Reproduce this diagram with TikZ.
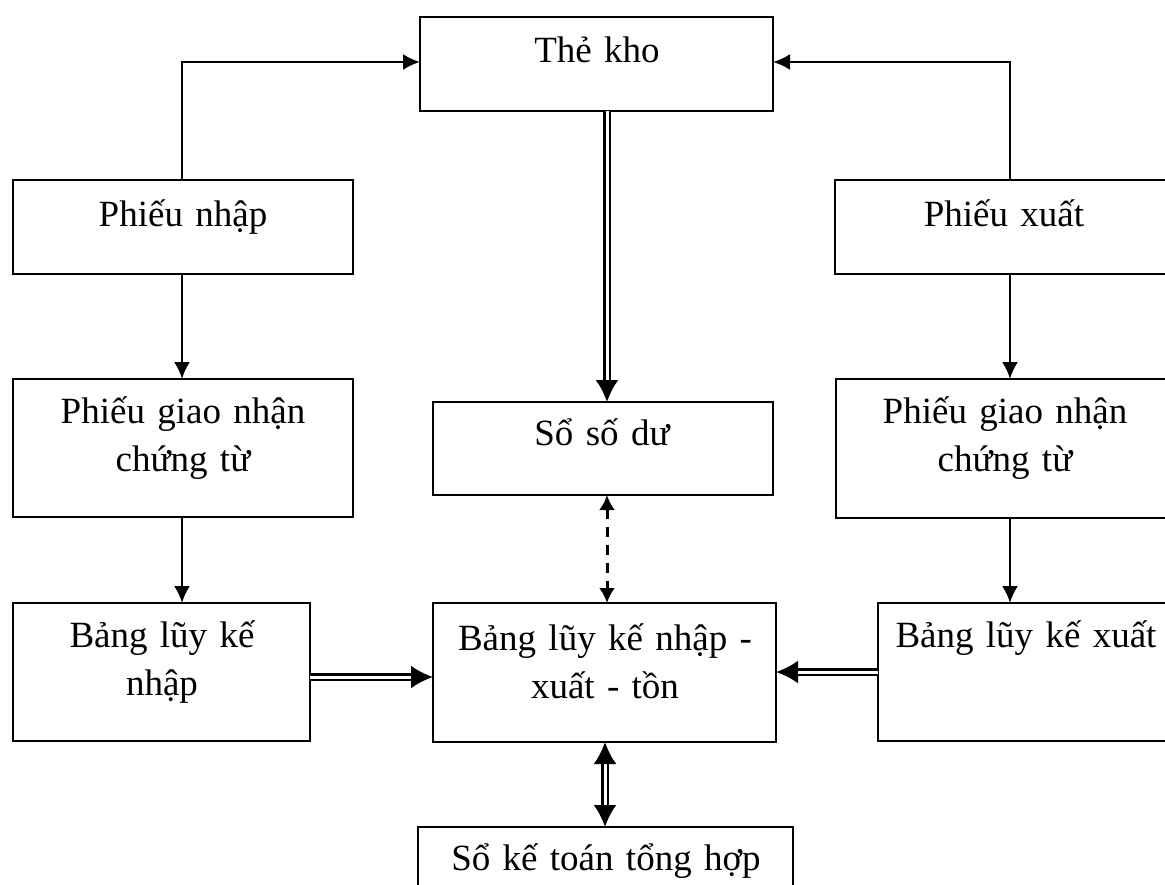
\documentclass[tikz,border=0pt]{standalone}
\usepackage{fontspec}
\setmainfont{Liberation Serif}
\usetikzlibrary{arrows.meta}
\tikzset{
  box/.style={draw=black, line width=1.3pt, rectangle, inner sep=0pt, outer sep=0pt, anchor=north west},
  lbl/.style={anchor=base, inner sep=0pt, text width=420pt, align=center, font=\fontsize{37}{48.5}\selectfont},
  arr/.style={line width=2.4pt, -{Latex[length=17pt,width=16pt]}},
  dbl/.style={double, double distance=3pt, line width=2.6pt, -{Latex[length=22pt,width=23pt]}},
  dblboth/.style={double, double distance=3pt, line width=2.6pt, {Latex[length=22pt,width=23pt]}-{Latex[length=22pt,width=23pt]}},
  dsh/.style={line width=3pt, dash pattern=on 10pt off 8pt, {Latex[length=15pt,width=16pt]}-{Latex[length=15pt,width=16pt]}}
}
\begin{document}
\begin{tikzpicture}[x=1pt,y=-1pt]
\useasboundingbox (0,0) rectangle (1165,884);
\fill[white] (0,0) rectangle (1165,884);
\clip (0,0) rectangle (1165,884);

% boxes
\node[box, minimum width=353pt, minimum height=94pt] (tk) at (420,17) {};
\node[box, minimum width=340pt, minimum height=94pt] (pn) at (13,180) {};
\node[box, minimum width=350pt, minimum height=94pt] (px) at (835,180) {};
\node[box, minimum width=340pt, minimum height=138pt] (pgnL) at (13,379) {};
\node[box, minimum width=340pt, minimum height=93pt] (ssd) at (433,402) {};
\node[box, minimum width=350pt, minimum height=139pt] (pgnR) at (836,379) {};
\node[box, minimum width=297pt, minimum height=138pt] (blkN) at (13,603) {};
\node[box, minimum width=343pt, minimum height=139pt] (nxt) at (433,603) {};
\node[box, minimum width=300pt, minimum height=138pt] (blkX) at (878,603) {};
\node[box, minimum width=375pt, minimum height=90pt] (skt) at (418,827) {};

% labels
\node[lbl] (tkT) at (597,62) {Thẻ kho};
\node[lbl] (pnT) at (183,226) {Phiếu nhập};
\node[lbl] (pxT) at (1004,226) {Phiếu xuất};
\node[lbl] (pgnLT) at (183,423) {Phiếu giao nhận\\chứng từ};
\node[lbl] (ssdT) at (602,445) {Sổ số dư};
\node[lbl] (pgnRT) at (1005,423) {Phiếu giao nhận\\chứng từ};
\node[lbl] (blkNT) at (162,647) {Bảng lũy kế\\nhập};
\node[lbl] (nxtT) at (605,650) {Bảng lũy kế nhập -\\xuất - tồn};
\node[lbl] (blkXT) at (1026,647) {Bảng lũy kế xuất};
\node[lbl] (sktT) at (606,870) {Sổ kế toán tổng hợp};

% helper coordinates
\coordinate (xL) at (182,0);
\coordinate (xR) at (1010,0);
\coordinate (xC) at (607,0);
\coordinate (xB) at (605,0);
\coordinate (yTop) at (0,62);
\coordinate (yN) at (0,677);
\coordinate (yX) at (0,672);

% connectors
\draw[arr] (pn.north -| xL) |- (tk.west |- yTop);
\draw[arr] (px.north -| xR) |- (tk.east |- yTop);
\draw[arr] (pn.south -| xL) -- (pgnL.north -| xL);
\draw[arr] (pgnL.south -| xL) -- (blkN.north -| xL);
\draw[arr] (px.south -| xR) -- (pgnR.north -| xR);
\draw[arr] (pgnR.south -| xR) -- (blkX.north -| xR);
\draw[dbl] (tk.south -| xC) -- (ssd.north -| xC);
\draw[dsh] (ssd.south -| xC) -- (nxt.north -| xC);
\draw[dbl] (blkN.east |- yN) -- (nxt.west |- yN);
\draw[dbl] (blkX.west |- yX) -- (nxt.east |- yX);
\draw[dblboth] (nxt.south -| xB) -- (skt.north -| xB);
\end{tikzpicture}
\end{document}
